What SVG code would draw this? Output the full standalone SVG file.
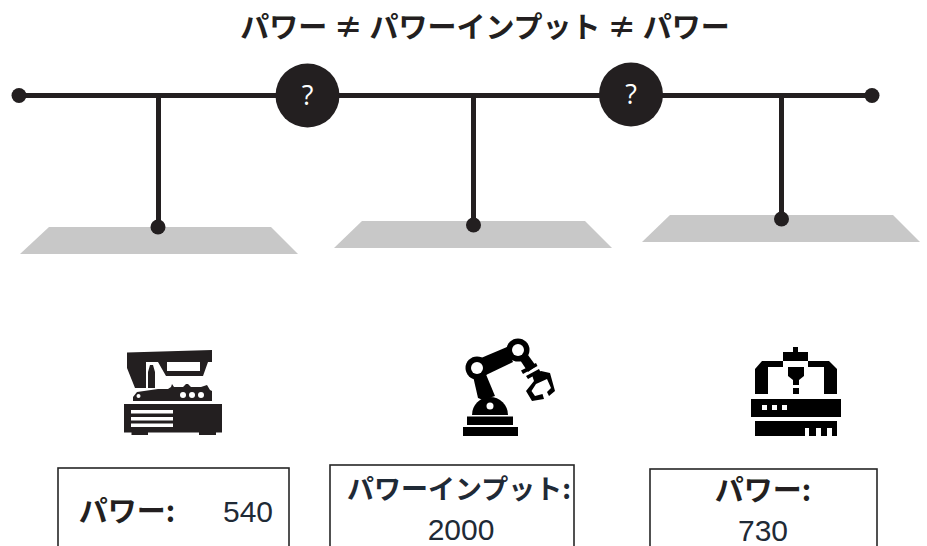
<svg xmlns="http://www.w3.org/2000/svg" width="927" height="546" viewBox="0 0 927 546">
<style>
.k{fill:#231f20}
.b{fill:#000}
.w{fill:#fff}
.ln{stroke:#231f20;stroke-width:5;fill:none}
.pl{fill:#c8c8c8}
.box{fill:#fff;stroke:#262626;stroke-width:1.6}
text{font-family:"Liberation Sans","Noto Sans CJK JP",sans-serif}
.jp{font-family:"Noto Sans CJK JP","Liberation Sans",sans-serif}
.t{font-size:29px;font-weight:700;fill:#231f20;text-anchor:middle}
.l{font-size:30px;fill:#1f2a36;text-anchor:middle}
.lb{font-size:27px;font-weight:700;fill:#1f2a36;text-anchor:middle}
.lc{font-size:29px;font-weight:700;fill:#231f20;text-anchor:middle}
.q{font-family:"Open Sans",sans-serif;font-size:27px;fill:#fff;text-anchor:middle}
</style>
<text class="t jp" x="485" y="38">パワー ≠ パワーインプット ≠ パワー</text>
<g id="connectors">
<path class="ln" d="M19 95.500H872M158.500 95V227M473.500 95V225M781.500 95V219"/>
<circle class="k" cx="19" cy="95.500" r="7.500"/>
<circle class="k" cx="872" cy="95.500" r="7.500"/>
</g>
<g id="platform1"><path class="pl" d="M49 227H271L298 254H20Z"/><circle class="k" cx="158" cy="227" r="7.500"/></g>
<g id="platform2"><path class="pl" d="M362 221H585L612 248H334Z"/><circle class="k" cx="473.500" cy="225" r="7.500"/></g>
<g id="platform3"><path class="pl" d="M670 215H893L920 242H642Z"/><circle class="k" cx="781.500" cy="219" r="7.500"/></g>
<g id="q1"><circle class="k" cx="307.500" cy="95.500" r="32"/><text class="q" x="307.500" y="105">?</text></g>
<g id="q2"><circle class="k" cx="631" cy="94.500" r="32"/><text class="q" x="631" y="104">?</text></g>
<g id="machine1">
<path class="k" d="M127 352.500L212 350V362H208L203 376H166L158 362H146V388H135L127 368Z"/>
<rect class="w" x="167" y="362" width="33" height="9"/>
<path class="k" d="M148 388V372L150 365H153L155 372V388ZM133 397L137 392L158 389H168L171 387L172 384L174 387H183L186 384H188L191 387H201L207 385L210 390L212 391V401H133Z"/>
<circle class="w" cx="183" cy="395" r="3"/><circle class="w" cx="192" cy="395" r="3"/><circle class="w" cx="201" cy="395" r="3"/><circle class="w" cx="138.500" cy="396" r="2"/>
<rect class="k" x="124" y="404" width="98" height="28.500"/>
<rect class="k" x="131.500" y="432" width="16.500" height="3"/><rect class="k" x="199" y="432" width="17" height="3"/>
<rect class="w" x="131" y="410" width="42" height="3.500"/><rect class="w" x="131" y="417" width="42" height="3.500"/><rect class="w" x="131" y="423.500" width="42" height="3.500"/>
</g>
<g id="machine2">
<rect class="b" x="463" y="427" width="55" height="9"/>
<rect class="b" x="467" y="416.500" width="46" height="8.500"/>
<path class="b" d="M472 415A18 18 0 0 1 508 415Z"/>
<circle class="w" cx="490" cy="406" r="3.500"/>
<path class="b" d="M473 376L485 372L495 396L483 400L478 398Z"/>
<path class="b" d="M481 358L507 347L513 362L486 375Z"/>
<circle class="b" cx="477" cy="368" r="11.500"/><circle class="w" cx="477" cy="368" r="6"/>
<circle class="b" cx="518" cy="350" r="11.500"/><circle class="w" cx="518" cy="350" r="6"/>
<path class="b" d="M520 360L528 355L536 366L528 372Z"/>
<path class="b" d="M521 370.500L536 363L537.500 366L523 374ZM526 376L539 369L540.500 372L528 379Z"/>
<path class="b" d="M532 375L534 381L526 391L532 401L544 399L542.500 394L535 396L531.500 391L536 384L547 379L551 388L547 392L549 396L555 391L550 373L541 371Z"/>
</g>
<g id="machine3">
<rect class="b" x="793" y="347" width="5" height="6"/>
<rect class="b" x="783" y="352" width="25" height="9"/>
<path class="b" d="M755 394V369L762 361H783V367H768V394ZM808 361H829L837 369V394H824V367H808Z"/>
<path class="b" d="M788 367H804V376L799 380V385H793V380L788 376Z"/>
<rect class="b" x="793" y="388" width="6" height="6"/>
<rect class="b" x="751" y="399" width="90" height="18"/>
<rect class="w" x="762" y="405" width="5" height="5"/><rect class="w" x="772" y="405" width="5" height="5"/><rect class="w" x="782" y="405" width="5" height="5"/>
<rect class="b" x="755" y="421" width="82" height="15"/>
<rect class="w" x="805" y="428" width="4" height="8"/><rect class="w" x="816" y="428" width="5" height="8"/><rect class="w" x="827" y="428" width="5" height="8"/>
</g>
<g id="card1"><rect class="box" x="58" y="468" width="231" height="90"/>
<text class="lc jp" x="127" y="522">パワー:</text>
<text class="l" x="248" y="522">540</text></g>
<g id="card2"><rect class="box" x="330" y="465" width="244" height="95"/>
<text class="lb jp" x="459" y="499">パワーインプット:</text>
<text class="l" x="461" y="540">2000</text></g>
<g id="card3"><rect class="box" x="650" y="469" width="227" height="90"/>
<text class="lc jp" x="763" y="501">パワー:</text>
<text class="l" x="763" y="541">730</text></g>
</svg>
